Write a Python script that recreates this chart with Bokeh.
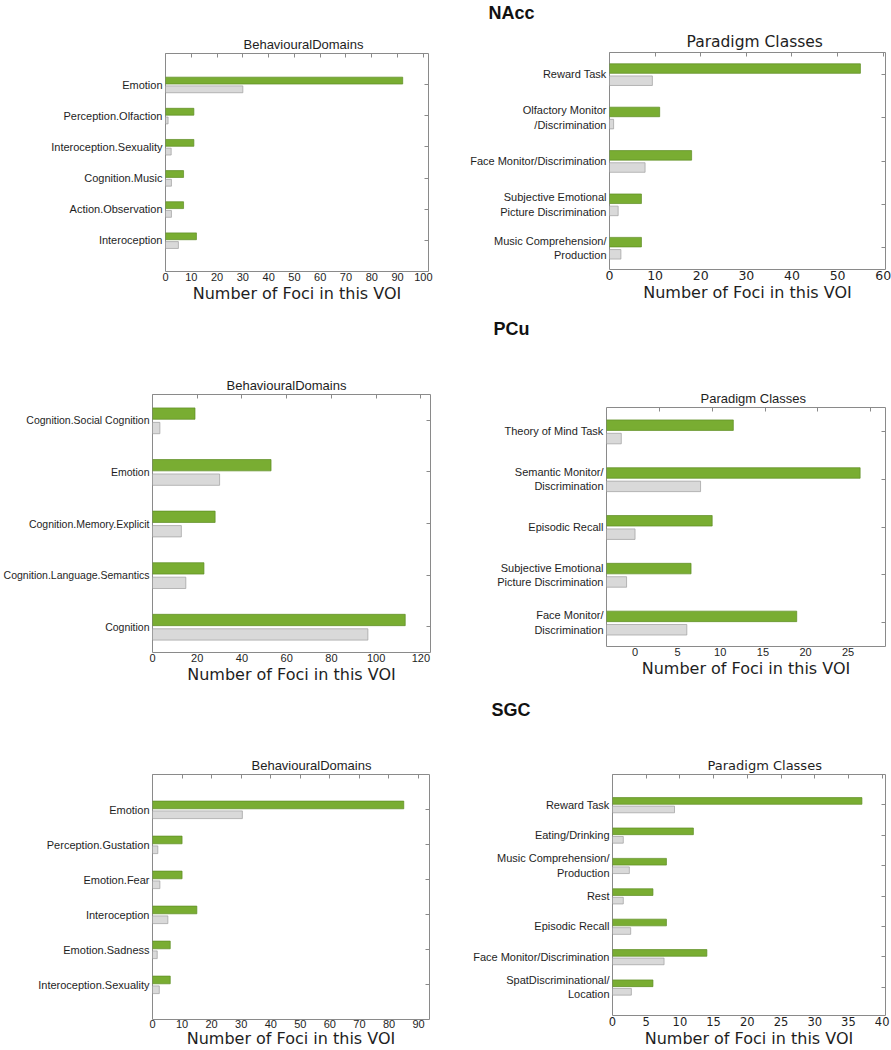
from bokeh.plotting import figure
from bokeh.layouts import column, row
from bokeh.models import ColumnDataSource, Range1d, FixedTicker, LinearAxis
from bokeh.transform import dodge
from bokeh.embed import file_html
from bokeh.resources import INLINE

# ---------------- data ----------------
region_titles = ["NAcc", "PCu", "SGC"]

nacc_bd_cats = ["Emotion", "Perception.Olfaction", "Interoception.Sexuality",
                "Cognition.Music", "Action.Observation", "Interoception"]
nacc_bd_obs = [92, 11, 11, 7, 7, 12]
nacc_bd_exp = [30, 1, 2.2, 2.3, 2.3, 5]

nacc_pc_cats = ["Reward Task", "Olfactory Monitor\n/Discrimination",
                "Face Monitor/Discrimination",
                "Subjective Emotional\nPicture Discrimination",
                "Music Comprehension/\nProduction"]
nacc_pc_obs = [55, 11, 18, 7, 7]
nacc_pc_exp = [9.4, 0.9, 7.8, 1.9, 2.5]

pcu_bd_cats = ["Cognition.Social Cognition", "Emotion", "Cognition.Memory.Explicit",
               "Cognition.Language.Semantics", "Cognition"]
pcu_bd_obs = [19, 53, 28, 23, 113]
pcu_bd_exp = [3.3, 30, 12.9, 14.9, 96.3]

pcu_pc_cats = ["Theory of Mind Task", "Semantic Monitor/\nDiscrimination",
               "Episodic Recall", "Subjective Emotional\nPicture Discrimination",
               "Face Monitor/\nDiscrimination"]
pcu_pc_obs = [12, 24, 10, 8, 18]
pcu_pc_exp = [1.4, 8.9, 2.7, 1.9, 7.6]
pcu_pc_tick_labels = ["0", "5", "10", "15", "20", "25"]

sgc_bd_cats = ["Emotion", "Perception.Gustation", "Emotion.Fear", "Interoception",
               "Emotion.Sadness", "Interoception.Sexuality"]
sgc_bd_obs = [85, 10, 10, 15, 6, 6]
sgc_bd_exp = [30.4, 1.8, 2.5, 5.2, 1.6, 2.3]

sgc_pc_cats = ["Reward Task", "Eating/Drinking", "Music Comprehension/\nProduction",
               "Rest", "Episodic Recall", "Face Monitor/Discrimination",
               "SpatDiscriminational/\nLocation"]
sgc_pc_obs = [37, 12, 8, 6, 8, 14, 6]
sgc_pc_exp = [9.2, 1.6, 2.5, 1.6, 2.7, 7.65, 2.8]

# ---------------- style ----------------
AXIS_TITLE = "Number of Foci in this VOI"
GREEN, GREEN_EDGE = "#79ad32", "#5d8c22"
GREY, GREY_EDGE = "#d9d9d9", "#9e9e9e"
FRAME = "#8a8a8a"
TEXT = "#1e1e1e"
SANS = "Liberation Sans"
WIDE = "DejaVu Sans"
W_LEFT, W_RIGHT = 440, 451


def mirror_axis(ticks):
    return LinearAxis(ticker=FixedTicker(ticks=ticks),
                      major_label_overrides={t: "" for t in ticks},
                      major_label_text_font_size="0px", major_label_standoff=0,
                      major_tick_in=4, major_tick_out=0, axis_line_color=None,
                      major_tick_line_color=FRAME, minor_tick_line_color=None)


def panel(cats, obs, exp, width, height, borders, xmax, yspan, xticks, title,
          title_font, title_size, title_offset, tick_font, tick_size,
          ylab_size="11px", top_ticks=None, xlabel_overrides=None,
          label_standoff=1, title_standoff=0):
    l, r, t, b = borders
    pos = list(range(1, len(cats) + 1))
    src = ColumnDataSource(dict(pos=pos, obs=obs, exp=exp))
    p = figure(width=width, height=height, x_range=Range1d(0, xmax),
               y_range=Range1d(yspan[1], yspan[0]),
               output_backend="svg", toolbar_location=None,
               min_border_left=l, min_border_right=r,
               min_border_top=t, min_border_bottom=b)
    p.hbar(y=dodge("pos", -0.13), left=0, right="obs", height=0.22, source=src,
           fill_color=GREEN, line_color=GREEN_EDGE, line_width=0.7)
    p.hbar(y=dodge("pos", 0.15), left=0, right="exp", height=0.22, source=src,
           fill_color=GREY, line_color=GREY_EDGE, line_width=0.7)
    p.xgrid.visible = False
    p.ygrid.visible = False
    p.outline_line_color = FRAME
    p.outline_line_width = 1
    p.background_fill_color = "white"
    p.border_fill_color = "white"

    xa = p.xaxis[0]
    xa.ticker = FixedTicker(ticks=xticks)
    if xlabel_overrides:
        xa.major_label_overrides = xlabel_overrides
    xa.axis_label = AXIS_TITLE
    xa.axis_label_text_font = WIDE
    xa.axis_label_text_font_size = "16px"
    xa.axis_label_text_font_style = "normal"
    xa.axis_label_text_color = TEXT
    xa.axis_label_standoff = title_standoff
    xa.major_label_standoff = label_standoff
    xa.major_label_text_font = tick_font
    xa.major_label_text_font_size = tick_size
    xa.major_label_text_color = TEXT
    xa.major_tick_in = 0
    xa.major_tick_out = 0
    xa.minor_tick_line_color = None
    xa.axis_line_color = None

    ya = p.yaxis[0]
    ya.ticker = FixedTicker(ticks=pos)
    ya.major_label_overrides = {k: c for k, c in zip(pos, cats)}
    ya.major_label_text_font = SANS
    ya.major_label_text_font_size = ylab_size
    ya.major_label_text_color = TEXT
    ya.major_label_standoff = 3
    ya.major_tick_in = 0
    ya.major_tick_out = 0
    ya.minor_tick_line_color = None
    ya.axis_line_color = None

    p.add_layout(mirror_axis(pos), "right")
    p.add_layout(mirror_axis(top_ticks if top_ticks else xticks), "above")

    p.title.text = title
    p.title.align = "left"
    p.title.offset = title_offset
    p.title.text_font = title_font
    p.title.text_font_size = title_size
    p.title.text_font_style = "normal"
    p.title.text_color = TEXT
    p.title.standoff = 4
    return p


def header(text, height, top, offset):
    h = figure(width=W_LEFT + W_RIGHT, height=height, x_axis_type=None, y_axis_type=None,
               output_backend="svg", toolbar_location=None,
               min_border_left=0, min_border_right=0, min_border_top=top,
               min_border_bottom=0)
    h.outline_line_color = None
    h.xgrid.visible = False
    h.ygrid.visible = False
    h.title.text = text
    h.title.align = "left"
    h.title.offset = offset
    h.title.text_font = SANS
    h.title.text_font_size = "18px"
    h.title.text_font_style = "bold"
    h.title.text_color = "#111111"
    h.title.standoff = 0
    return h


# ---------------- NAcc ----------------
p1 = panel(nacc_bd_cats, nacc_bd_obs, nacc_bd_exp, W_LEFT, 283, (165, 12, 31, 32),
           102, (0, 7), list(range(0, 101, 10)), "BehaviouralDomains",
           SANS, "13px", 78, SANS, "11px")
p2 = panel(nacc_pc_cats, nacc_pc_obs, nacc_pc_exp, W_RIGHT, 283, (169, 6, 30, 36),
           60.5, (0.5, 5.5), list(range(0, 61, 10)), "Paradigm Classes",
           WIDE, "15.5px", 77, WIDE, "12.5px")

# ---------------- PCu ----------------
p3 = panel(pcu_bd_cats, pcu_bd_obs, pcu_bd_exp, W_LEFT, 351, (152, 10, 55, 38),
           124.3, (0.5, 5.5), list(range(0, 121, 20)), "BehaviouralDomains",
           SANS, "13px", 74, SANS, "11px", ylab_size="10.5px")
pcu_label_pos = [2.7, 6.73, 10.76, 14.8, 18.83, 22.86]
p4 = panel(pcu_pc_cats, pcu_pc_obs, pcu_pc_exp, W_RIGHT, 351, (166, 6, 68, 44),
           26.4, (0.5, 5.5), pcu_label_pos, "Paradigm Classes",
           SANS, "13px", 94, SANS, "11px", top_ticks=[5, 10, 15, 20, 25],
           xlabel_overrides=dict(zip(pcu_label_pos, pcu_pc_tick_labels)))

# ---------------- SGC ----------------
p5 = panel(sgc_bd_cats, sgc_bd_obs, sgc_bd_exp, W_LEFT, 330, (152, 11, 54, 29),
           93.7, (0, 7), list(range(0, 91, 10)), "BehaviouralDomains",
           SANS, "13px", 99, SANS, "11px", label_standoff=0, title_standoff=-2)
p6 = panel(sgc_pc_cats, sgc_pc_obs, sgc_pc_exp, W_RIGHT, 330, (172, 6, 54, 35),
           40.5, (0, 7.93), list(range(0, 41, 5)), "Paradigm Classes",
           WIDE, "13px", 95, WIDE, "11.5px")

layout = column(
    header(region_titles[0], 22, 0, 488),
    row(column(p1), column(p2)),
    header(region_titles[1], 34, 33, 493),
    row(column(p3), column(p4)),
    header(region_titles[2], 30, 29, 491),
    row(column(p5), column(p6)),
)

open("out.html", "w").write(file_html(layout, INLINE))
